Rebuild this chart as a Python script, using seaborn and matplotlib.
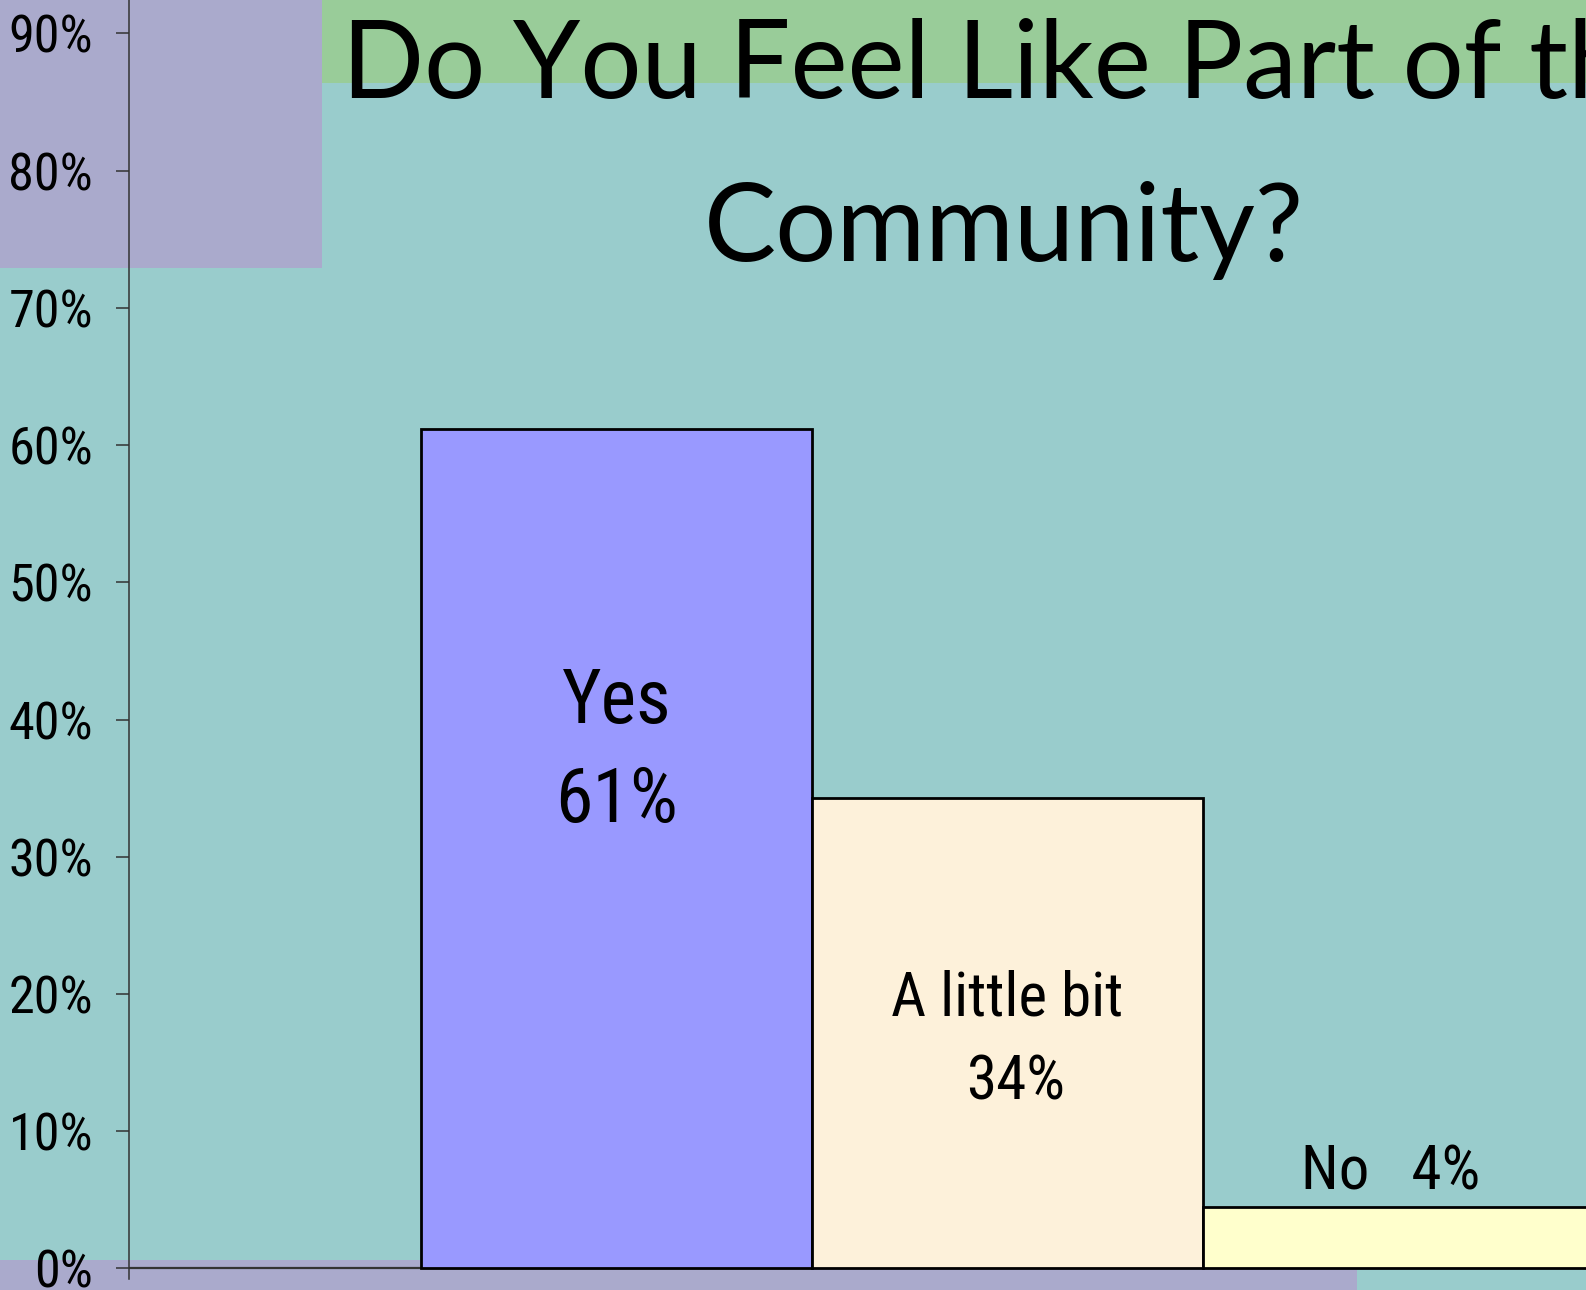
import matplotlib
matplotlib.use("Agg")
import math
import matplotlib.pyplot as plt
from matplotlib import font_manager
from matplotlib.font_manager import FontProperties
from matplotlib.patches import Rectangle
import seaborn as sns
import pandas as pd

# ---- data ----
categories = ["Yes", "A little bit", "No"]
values = [61.2, 34.3, 4.5]
pct_labels = ["61%", "34%", "4%"]
tick_values = [0, 10, 20, 30, 40, 50, 60, 70, 80, 90]
tick_labels = [f"{v}%" for v in tick_values]
title_line1 = "Do You Feel Like Part of the"
title_line2 = "Community?"

bar_colors = ["#9999FF", "#FDF1DA", "#FFFFCC"]

W, H = 1586, 1290
sns.set_theme(style="white")
plt.rcParams['font.family'] = ['Liberation Sans', 'DejaVu Sans']
plt.rcParams['text.color'] = 'black'

# look for a narrow sans font (Arial Narrow look-alike)
narrow_path = None
pref = ["Liberation Sans Narrow", "Arial Narrow", "Roboto Condensed",
        "Open Sans Condensed", "Noto Sans Condensed", "DejaVu Sans Condensed"]
ttf = font_manager.fontManager.ttflist
for p in pref:
    for f in ttf:
        if f.name == p and f.style == "normal" and f.weight in (400, "normal", "regular"):
            narrow_path = f.fname
            break
    if narrow_path:
        break
if narrow_path is None:
    for f in ttf:
        if (f.name in ("DejaVu Sans", "Noto Sans", "Open Sans", "Liberation Sans")
                and str(f.stretch) in ("condensed", "semi-condensed", "75", "87.5")
                and f.style == "normal" and f.weight in (400, "normal", "regular")):
            narrow_path = f.fname
            break

def base_fp():
    if narrow_path:
        return FontProperties(fname=narrow_path)
    return FontProperties(family=["Liberation Sans", "DejaVu Sans"])

fig = plt.figure(figsize=(W / 100, H / 100), dpi=100)
fig.patch.set_facecolor("#99CCCC")
renderer = fig.canvas.get_renderer()

def measure(text, fp, size):
    fp = fp.copy()
    fp.set_size(size)
    t = fig.text(0, 0, text, fontproperties=fp)
    w = t.get_window_extent(renderer).width
    t.remove()
    return w

def fit_size(text, fp, target_w, cap_size, mode="geo"):
    w = measure(text, fp, 50)
    ws = 50 * target_w / w
    if mode == "width":
        return ws
    return math.sqrt(ws * cap_size)

# background panels
bg = fig.add_axes([0, 0, 1, 1], zorder=-5)
bg.set_xlim(0, W)
bg.set_ylim(H, 0)
bg.axis("off")
bg.add_patch(Rectangle((0, 0), 322, 268, facecolor="#AAAACC", edgecolor="none"))
bg.add_patch(Rectangle((322, 0), W - 322, 83, facecolor="#99CC99", edgecolor="none"))
bg.add_patch(Rectangle((0, 1260), 1357, H - 1260, facecolor="#AAAACC", edgecolor="none"))

ax_left = 128.5
ax = fig.add_axes([ax_left / W, 0, 1 - ax_left / W, 1], zorder=1)
ax.set_facecolor("none")

df = pd.DataFrame({"cat": categories, "val": values})
sns.barplot(data=df, x="cat", y="val", hue="cat", palette=bar_colors, width=1.0,
            edgecolor="black", linewidth=2.0, legend=False, ax=ax, zorder=3,
            saturation=1)

ax.set_xlim(-1.248, 2.48)
ax.set_ylim(-1.58, 92.44)
ax.set_xlabel("")
ax.set_ylabel("")
ax.set_xticks([])
ax.set_yticks(tick_values)

tick_fp = base_fp()
tick_fp.set_size(fit_size("90%", base_fp(), 84, 38))
ax.set_yticklabels(tick_labels)
for lab in ax.get_yticklabels():
    lab.set_fontproperties(tick_fp)
    lab.set_color("black")
ax.tick_params(axis="y", direction="out", length=9.4, width=1.1, color="#333333",
               pad=16, left=True, labelcolor="black")
for s in ["top", "right", "bottom"]:
    ax.spines[s].set_visible(False)
ax.spines["left"].set_color("#333333")
ax.spines["left"].set_linewidth(1.1)
ax.spines["left"].set_bounds(-0.8, 92.44)
ax.axhline(0, color="#333333", linewidth=1.6, zorder=2)

# bar labels
big = base_fp()
big.set_size(fit_size("61%", base_fp(), 120, 56))
small = base_fp()
small.set_size(fit_size("A little bit", base_fp(), 213, 48))
lab_kw = dict(ha="center", va="baseline", color="black", zorder=5)
ax.text(0, 39.74, categories[0], fontproperties=big, **lab_kw)
ax.text(0, 32.5, pct_labels[0], fontproperties=big, **lab_kw)
ax.text(1, 18.4, categories[1], fontproperties=small, **lab_kw)
ax.text(1.02, 12.27, pct_labels[1], fontproperties=small, **lab_kw)
ax.text(1.98, 5.77, f"{categories[2]}   {pct_labels[2]}", fontproperties=small, **lab_kw)

# title
tfp = FontProperties(family=["Lato", "DejaVu Sans"])
tsize = fit_size(title_line2, tfp, 600, 90, mode="width")
tfp.set_size(tsize)
fig.text(342 / W, 1 - 98 / H, title_line1, ha="left", va="baseline",
         fontproperties=tfp, color="black")
fig.text(1004 / W, 1 - 261 / H, title_line2, ha="center", va="baseline",
         fontproperties=tfp, color="black")

fig.savefig("out.png", dpi=100, facecolor=fig.get_facecolor())
